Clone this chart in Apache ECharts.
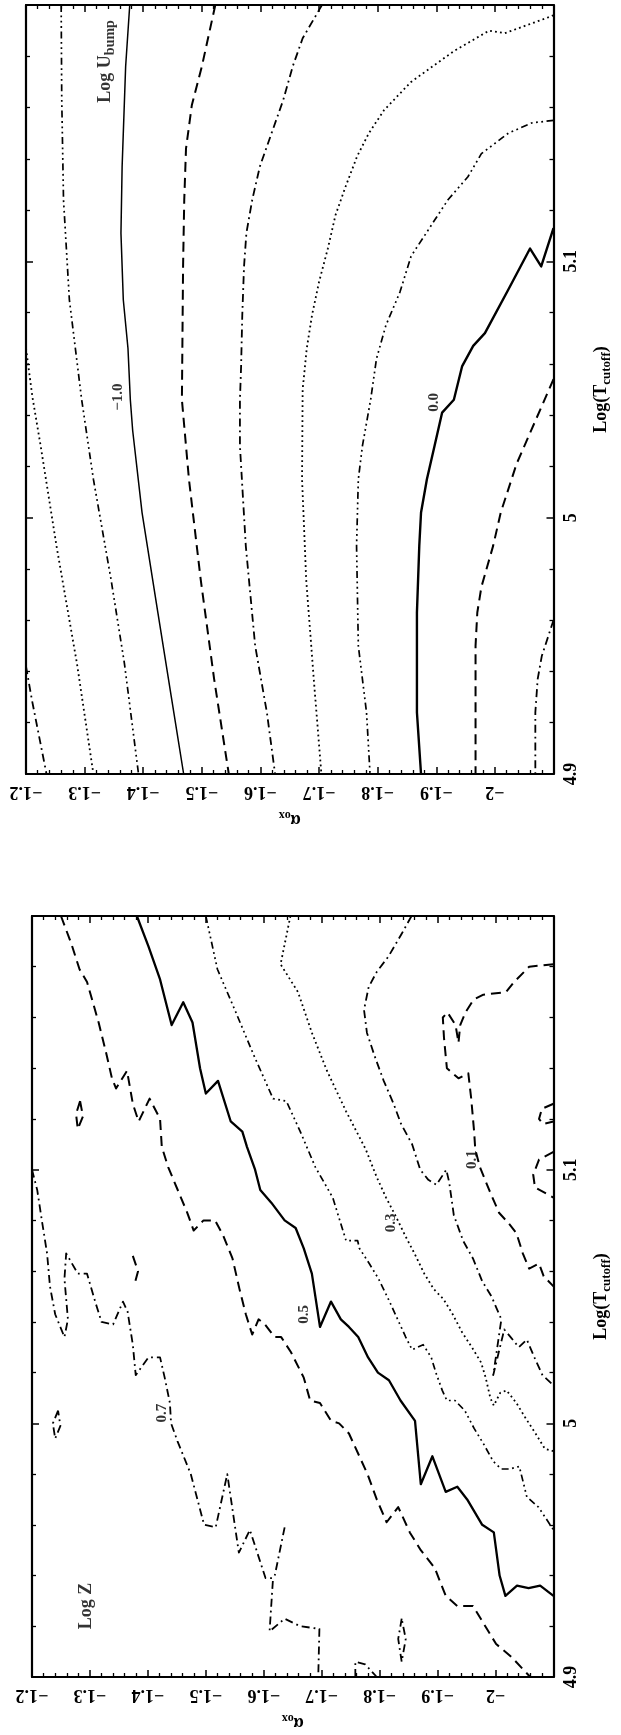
<!DOCTYPE html>
<html><head><meta charset="utf-8">
<script src="https://cdn.jsdelivr.net/npm/echarts@6/dist/echarts.min.js"></script>
<style>html,body{margin:0;padding:0;background:#fff}#c{width:621px;height:1735px}</style>
</head><body><div id="c"></div>
<script>
// ---------- axis ranges ----------
const alphaRange = [-2.1, -1.2];   // alpha_ox
const logTRange = [4.9, 5.2];      // Log(T_cutoff)

// ---------- Panel 1: Log U_bump contours  [alpha_ox, logT] ----------
const uM16 = [[-1.200,4.942],[-1.210,4.929],[-1.235,4.900]];
const uM14 = [[-1.200,5.066],[-1.211,5.047],[-1.225,5.028],[-1.252,4.989],[-1.287,4.943],[-1.315,4.900]];
const uM12 = [[-1.260,5.200],[-1.261,5.163],[-1.264,5.124],[-1.274,5.085],[-1.288,5.059],[-1.295,5.046],[-1.315,5.015],[-1.345,4.976],[-1.368,4.943],[-1.392,4.900]];
const uM10 = [[-1.377,5.200],[-1.370,5.176],[-1.364,5.137],[-1.362,5.111],[-1.366,5.085],[-1.374,5.066],[-1.378,5.046],[-1.382,5.034],[-1.398,5.002],[-1.425,4.963],[-1.448,4.930],[-1.469,4.900]];
const uM08 = [[-1.523,5.200],[-1.500,5.176],[-1.483,5.161],[-1.473,5.144],[-1.470,5.124],[-1.468,5.098],[-1.467,5.072],[-1.466,5.046],[-1.478,5.015],[-1.498,4.976],[-1.521,4.937],[-1.546,4.900]];
const uM06 = [[-1.705,5.200],[-1.672,5.187],[-1.655,5.176],[-1.639,5.163],[-1.619,5.150],[-1.599,5.137],[-1.586,5.124],[-1.576,5.111],[-1.572,5.098],[-1.569,5.079],[-1.567,5.059],[-1.565,5.046],[-1.565,5.028],[-1.575,4.989],[-1.591,4.950],[-1.611,4.924],[-1.625,4.900]];
const uM04 = [[-2.100,5.196],[-2.089,5.195],[-2.017,5.189],[-1.990,5.190],[-1.930,5.182],[-1.857,5.170],[-1.811,5.159],[-1.785,5.150],[-1.765,5.141],[-1.745,5.129],[-1.728,5.118],[-1.715,5.105],[-1.700,5.092],[-1.688,5.079],[-1.679,5.066],[-1.672,5.050],[-1.671,5.015],[-1.678,4.976],[-1.691,4.937],[-1.704,4.900]];
const uM02 = [[-2.100,5.155],[-2.063,5.154],[-2.023,5.150],[-1.977,5.142],[-1.954,5.133],[-1.920,5.124],[-1.897,5.116],[-1.857,5.102],[-1.838,5.088],[-1.814,5.075],[-1.798,5.062],[-1.788,5.046],[-1.774,5.028],[-1.767,5.015],[-1.764,4.989],[-1.767,4.950],[-1.781,4.924],[-1.787,4.900]];
const u00  = [[-2.100,5.113],[-2.079,5.098],[-2.060,5.105],[-2.023,5.089],[-1.983,5.072],[-1.963,5.067],[-1.944,5.059],[-1.930,5.046],[-1.910,5.041],[-1.897,5.028],[-1.884,5.015],[-1.874,5.002],[-1.871,4.989],[-1.867,4.963],[-1.867,4.924],[-1.874,4.900]];
const u02  = [[-2.100,5.054],[-2.037,5.021],[-2.010,5.002],[-1.997,4.989],[-1.977,4.973],[-1.970,4.963],[-1.967,4.950],[-1.967,4.900]];
const u04  = [[-2.100,4.960],[-2.080,4.946],[-2.073,4.937],[-2.069,4.924],[-2.069,4.900]];
const uLabelText = ['\u22121.0', '0.0'];
const uLabelPos  = [[-1.358,5.047], [-1.897,5.045]];
const uTitlePos  = [-1.335,5.178];

// ---------- Panel 2: Log Z contours  [alpha_ox, logT] ----------
const z07a = [[-1.200,5.100],[-1.209,5.092],[-1.217,5.080],[-1.226,5.067],[-1.231,5.054],[-1.240,5.043],[-1.256,5.034],[-1.262,5.041],[-1.256,5.057],[-1.259,5.067],[-1.279,5.059],[-1.295,5.059],[-1.309,5.048],[-1.320,5.040],[-1.340,5.039],[-1.357,5.048],[-1.365,5.044],[-1.374,5.031],[-1.379,5.019],[-1.401,5.026],[-1.421,5.026],[-1.429,5.018],[-1.438,5.008],[-1.440,5.000],[-1.451,4.993],[-1.474,4.980],[-1.497,4.960],[-1.517,4.959],[-1.537,4.980],[-1.557,4.949],[-1.576,4.958],[-1.603,4.939],[-1.616,4.939],[-1.610,4.918],[-1.636,4.923],[-1.663,4.920],[-1.696,4.919],[-1.694,4.900]];
const z07b = [[-1.636,4.959],[-1.619,4.940]];
const z07c = [[-1.758,4.900],[-1.758,4.906],[-1.775,4.905],[-1.795,4.900]];
const z07d = [[-1.838,4.923],[-1.832,4.915],[-1.838,4.906],[-1.845,4.915],[-1.838,4.923]];
const z07e = [[-1.245,5.005],[-1.236,5.000],[-1.240,4.994],[-1.249,4.999],[-1.245,5.005]];
const z06a = [[-1.250,5.200],[-1.268,5.189],[-1.282,5.179],[-1.295,5.174],[-1.315,5.158],[-1.328,5.146],[-1.338,5.136],[-1.345,5.132],[-1.364,5.139],[-1.374,5.126],[-1.384,5.119],[-1.403,5.128],[-1.421,5.120],[-1.424,5.109],[-1.435,5.101],[-1.457,5.089],[-1.468,5.083],[-1.479,5.076],[-1.496,5.080],[-1.516,5.080],[-1.530,5.074],[-1.546,5.065],[-1.558,5.053],[-1.569,5.043],[-1.580,5.035],[-1.591,5.041],[-1.602,5.039],[-1.619,5.034],[-1.630,5.034],[-1.647,5.028],[-1.669,5.018],[-1.680,5.009],[-1.697,5.008],[-1.716,5.001],[-1.730,5.000],[-1.747,4.996],[-1.779,4.980],[-1.795,4.970],[-1.812,4.961],[-1.832,4.967],[-1.852,4.957],[-1.871,4.950],[-1.895,4.943],[-1.914,4.932],[-1.934,4.928],[-1.961,4.928],[-1.977,4.922],[-2.001,4.913],[-2.027,4.908],[-2.060,4.900]];
const z06b = [[-1.283,5.127],[-1.276,5.122],[-1.279,5.116],[-1.288,5.121],[-1.283,5.127]];
const z06c = [[-1.374,5.066],[-1.383,5.060],[-1.376,5.054]];
const z05  = [[-1.381,5.200],[-1.401,5.188],[-1.421,5.175],[-1.441,5.157],[-1.461,5.166],[-1.477,5.158],[-1.490,5.140],[-1.500,5.130],[-1.521,5.135],[-1.543,5.119],[-1.563,5.115],[-1.571,5.109],[-1.585,5.100],[-1.594,5.092],[-1.613,5.087],[-1.636,5.080],[-1.655,5.077],[-1.669,5.069],[-1.683,5.059],[-1.697,5.038],[-1.716,5.048],[-1.733,5.041],[-1.747,5.038],[-1.763,5.034],[-1.780,5.026],[-1.797,5.020],[-1.816,5.017],[-1.836,5.009],[-1.861,5.001],[-1.871,4.976],[-1.891,4.987],[-1.914,4.973],[-1.934,4.975],[-1.951,4.970],[-1.977,4.960],[-1.997,4.957],[-2.007,4.940],[-2.017,4.932],[-2.037,4.936],[-2.057,4.935],[-2.077,4.936],[-2.100,4.932]];
const z04  = [[-1.500,5.200],[-1.520,5.179],[-1.550,5.163],[-1.583,5.145],[-1.616,5.128],[-1.639,5.127],[-1.663,5.115],[-1.689,5.101],[-1.719,5.089],[-1.742,5.072],[-1.762,5.072],[-1.765,5.069],[-1.782,5.063],[-1.798,5.057],[-1.815,5.049],[-1.831,5.041],[-1.845,5.034],[-1.856,5.029],[-1.875,5.031],[-1.889,5.026],[-1.897,5.020],[-1.908,5.013],[-1.916,5.009],[-1.930,5.009],[-1.947,5.005],[-1.963,4.998],[-1.979,4.992],[-1.996,4.985],[-2.010,4.982],[-2.024,4.982],[-2.041,4.983],[-2.054,4.971],[-2.074,4.967],[-2.100,4.958]];
const z03  = [[-1.646,5.200],[-1.629,5.181],[-1.659,5.170],[-1.683,5.154],[-1.709,5.139],[-1.742,5.123],[-1.776,5.108],[-1.795,5.097],[-1.811,5.089],[-1.827,5.082],[-1.844,5.074],[-1.860,5.067],[-1.877,5.059],[-1.893,5.053],[-1.910,5.049],[-1.926,5.043],[-1.942,5.036],[-1.959,5.030],[-1.975,5.024],[-1.983,5.018],[-1.991,5.010],[-1.997,5.007],[-2.008,5.012],[-2.019,5.013],[-2.036,5.008],[-2.052,5.002],[-2.069,4.996],[-2.085,4.990],[-2.100,4.989]];
const z02  = [[-1.855,5.200],[-1.838,5.193],[-1.815,5.184],[-1.795,5.178],[-1.781,5.172],[-1.773,5.163],[-1.778,5.154],[-1.791,5.145],[-1.807,5.135],[-1.824,5.126],[-1.837,5.118],[-1.856,5.110],[-1.870,5.100],[-1.884,5.096],[-1.898,5.094],[-1.915,5.100],[-1.920,5.095],[-1.928,5.082],[-1.944,5.072],[-1.961,5.065],[-1.977,5.056],[-1.993,5.050],[-2.010,5.041],[-1.996,5.019],[-2.015,5.037],[-2.026,5.034],[-2.040,5.030],[-2.054,5.033],[-2.067,5.026],[-2.081,5.019],[-2.100,5.015]];
const z01a = [[-2.100,5.181],[-2.058,5.180],[-2.032,5.174],[-2.018,5.170],[-1.979,5.169],[-1.962,5.167],[-1.948,5.162],[-1.939,5.157],[-1.936,5.150],[-1.931,5.157],[-1.917,5.162],[-1.909,5.160],[-1.911,5.152],[-1.916,5.140],[-1.936,5.136],[-1.953,5.138],[-1.958,5.128],[-1.963,5.115],[-1.965,5.108],[-1.973,5.101],[-1.989,5.092],[-2.006,5.083],[-2.022,5.079],[-2.036,5.075],[-2.047,5.067],[-2.058,5.061],[-2.075,5.063],[-2.083,5.058],[-2.100,5.054]];
const z01b = [[-2.100,5.107],[-2.075,5.104],[-2.065,5.098],[-2.068,5.093],[-2.100,5.089]];
const z01c = [[-2.100,5.126],[-2.080,5.124],[-2.075,5.120],[-2.082,5.118],[-2.100,5.119]];
const zLabelText = ['0.7', '0.5', '0.3', '0.1'];
const zLabelPos  = [[-1.424,5.004], [-1.669,5.043], [-1.819,5.079], [-1.9595,5.104]];
const zTitlePos  = [-1.2935,4.928];

// ---------- styles ----------
const FONT = 'Liberation Serif';
const STY = {
  solid:    {type:'solid', width:2.0},
  dashed:   {type:[10,6], width:2.0},
  dashdot:  {type:[8,4,1.8,4], width:1.8},
  dotted:   {type:[1.8,3.2], width:1.8},
  dashdot3: {type:[7,3.5,1.8,3.5,1.8,3.5,1.8,3.5], width:1.7}
};
const contours = [
  [uM16,'dashdot',0],[uM14,'dotted',0],[uM12,'dashdot3',0],[uM10,'solid',0,1.5],[uM08,'dashed',0],
  [uM06,'dashdot',0],[uM04,'dotted',0],[uM02,'dashdot3',0],[u00,'solid',0,2.4],[u02,'dashed',0],[u04,'dashdot',0],
  [z07a,'dashdot',1],[z07b,'dashdot',1],[z07c,'dashdot',1],[z07d,'dashdot',1],[z07e,'dashdot',1],
  [z06a,'dashed',1],[z06b,'dashed',1],[z06c,'dashed',1],
  [z05,'solid',1,2.3],[z04,'dashdot3',1],[z03,'dotted',1],[z02,'dashdot',1],
  [z01a,'dashed',1],[z01b,'dashed',1],[z01c,'dashed',1]
];

const grids = [
  {left:26, top:5, width:539, height:769},
  {left:32, top:916, width:538, height:770}
];

const txtBase = {fontFamily:FONT, fontWeight:'bold', color:'#000'};
const richSub = (big, small, pad) => ({
  a: Object.assign({}, txtBase, {fontSize:big, lineHeight:big+6}),
  b: Object.assign({}, txtBase, {fontSize:small, lineHeight:small, padding:[pad,0,0,0]})
});

function fmtAlpha(v){
  if (Math.abs(v + 2.1) < 1e-6) return '';
  if (Math.abs(v + 2) < 1e-6) return '\u22122';
  return '\u2212' + Math.abs(v).toFixed(1);
}
function fmtT(v){
  if (Math.abs(v - 5.2) < 1e-6) return '';
  if (Math.abs(v - 5) < 1e-6) return '5';
  return v.toFixed(1);
}

const tickStyle = {
  axisLine:{show:true, onZero:false, lineStyle:{color:'#000', width:2.2}},
  axisTick:{show:true, inside:true, length:7, lineStyle:{color:'#000', width:1.5}},
  minorTick:{show:true, splitNumber:5, length:4, lineStyle:{color:'#000', width:1.3}},
  splitLine:{show:false}, minorSplitLine:{show:false}
};

const xAxes = [], yAxes = [];
[0,1].forEach(g => {
  xAxes.push(Object.assign({
    type:'value', gridIndex:g, position:'bottom', min:alphaRange[0], max:alphaRange[1], interval:0.1, inverse:true,
    axisLabel:Object.assign({}, txtBase, {fontSize:18, rotate:180, margin:9, formatter:fmtAlpha}),
    name:'{a|\u03b1}{b|ox}', nameLocation:'middle', nameRotate:180, nameGap:34,
    nameTextStyle:Object.assign({}, txtBase, {fontSize:18, rich:richSub(18,12,10)})
  }, tickStyle));
  xAxes.push(Object.assign({
    type:'value', gridIndex:g, position:'top', min:alphaRange[0], max:alphaRange[1], interval:0.1, inverse:true,
    axisLabel:{show:false}
  }, tickStyle));
  yAxes.push(Object.assign({
    type:'value', gridIndex:g, position:'right', min:logTRange[0], max:logTRange[1], interval:0.1,
    axisLabel:Object.assign({}, txtBase, {fontSize:18, rotate:90, margin:9, formatter:fmtT}),
    name:'{a|Log(T}{b|cutoff}{a|)}', nameLocation:'middle', nameRotate:90, nameGap:36,
    nameTextStyle:Object.assign({}, txtBase, {fontSize:18, rich:richSub(18,13,10)})
  }, tickStyle));
  yAxes.push(Object.assign({
    type:'value', gridIndex:g, position:'left', min:logTRange[0], max:logTRange[1], interval:0.1,
    axisLabel:{show:false}
  }, tickStyle));
});

const series = contours.map(c => ({
  type:'line', xAxisIndex:c[2]*2, yAxisIndex:c[2]*2, data:c[0],
  showSymbol:false, symbol:'none', smooth:false, clip:true, silent:true,
  lineStyle:Object.assign({color:'#000', cap:'butt', join:'round'}, STY[c[1]], c[3] ? {width:c[3]} : {})
}));

function textSeries(g, items, size, rich){
  return {
    type:'scatter', xAxisIndex:g*2, yAxisIndex:g*2, symbolSize:1, silent:true,
    itemStyle:{color:'rgba(0,0,0,0)'},
    data: items.map(it => ({value:it[0], name:it[1]})),
    label:Object.assign({}, txtBase, {show:true, position:'inside', rotate:90, fontSize:size,
      formatter:p => p.name, rich:rich || {}})
  };
}
series.push(textSeries(0, uLabelPos.map((p,i)=>[p, uLabelText[i]]), 15));
series.push(textSeries(1, zLabelPos.map((p,i)=>[p, zLabelText[i]]), 15));
series.push(textSeries(0, [[uTitlePos, '{a|Log U}{b|bump}']], 18, richSub(18,14,10)));
series.push(textSeries(1, [[zTitlePos, '{a|Log Z}']], 18, richSub(18,14,10)));

const chart = echarts.init(document.getElementById('c'));
chart.setOption({
  backgroundColor:'#fff', animation:false,
  grid:grids, xAxis:xAxes, yAxis:yAxes, series:series
});
</script></body></html>
